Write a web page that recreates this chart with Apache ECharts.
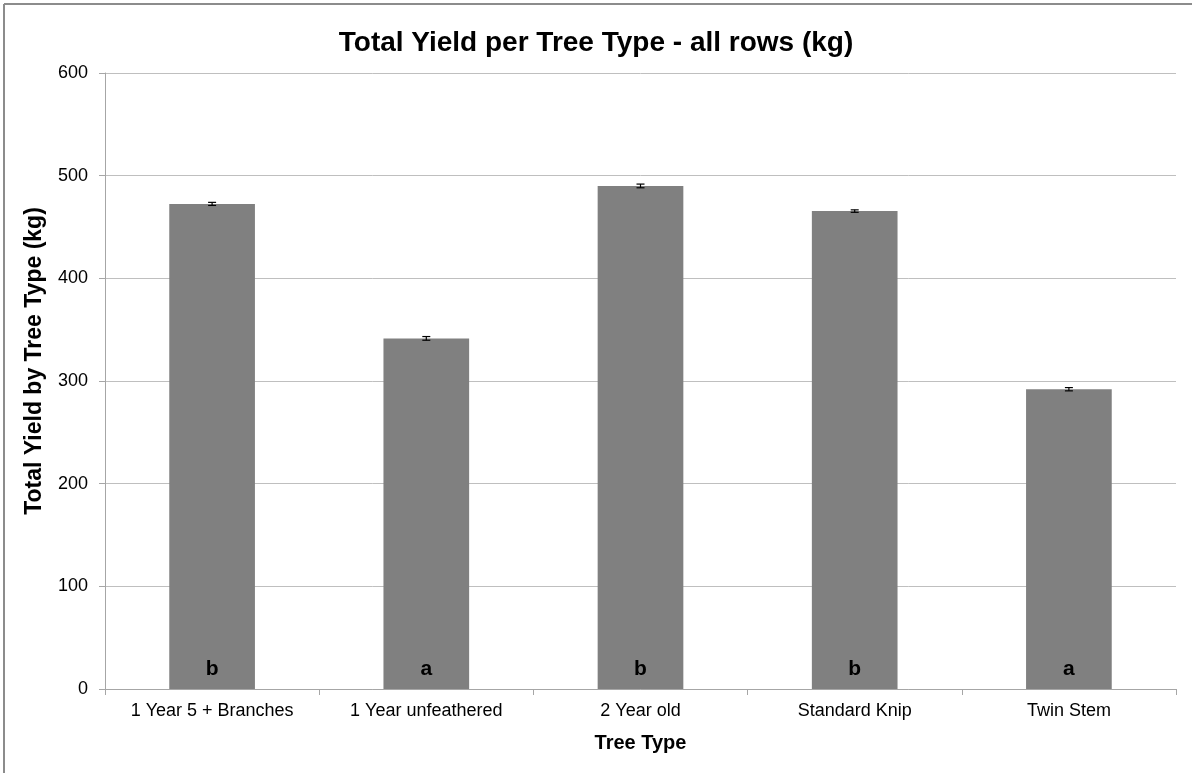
<!DOCTYPE html>
<html>
<head>
<meta charset="utf-8">
<script src="https://cdn.jsdelivr.net/npm/echarts@6/dist/echarts.min.js"></script>
<style>
  html, body { margin: 0; padding: 0; background: #fff; }
  #chart { width: 1192px; height: 773px; }
</style>
</head>
<body>
<div id="chart"></div>
<script>
// Tree types and their total yields (kg), with standard errors and significance groups
const treeTypes = ['1 Year 5 + Branches', '1 Year unfeathered', '2 Year old', 'Standard Knip', 'Twin Stem'];
const totalYield = [472.5, 341.5, 490, 465.5, 292];
const yieldError = [1.5, 1.8, 1.8, 1.2, 1.6];
const groupLetters = ['b', 'a', 'b', 'b', 'a'];

const font = '"Liberation Sans", Arial, sans-serif';

const chart = echarts.init(document.getElementById('chart'), null, { renderer: 'canvas' });

chart.setOption({
  backgroundColor: '#ffffff',
  animation: false,
  title: {
    text: 'Total Yield per Tree Type - all rows (kg)',
    left: 'center',
    top: 24,
    textStyle: { fontFamily: font, fontSize: 28, fontWeight: 'bold', color: '#000' }
  },
  graphic: [
    { type: 'line', shape: { x1: 4, y1: 4, x2: 1192, y2: 4 }, style: { stroke: '#8c8c8c', lineWidth: 2 } },
    { type: 'line', shape: { x1: 4, y1: 4, x2: 4, y2: 773 }, style: { stroke: '#8c8c8c', lineWidth: 2 } }
  ],
  grid: { left: 105, right: 16, top: 73, bottom: 84, containLabel: false },
  xAxis: {
    type: 'category',
    data: treeTypes,
    name: 'Tree Type',
    nameLocation: 'middle',
    nameGap: 44,
    nameTextStyle: { fontFamily: font, fontSize: 20, fontWeight: 'bold', color: '#000' },
    axisLine: { lineStyle: { color: '#a6a6a6', width: 1 } },
    axisTick: { show: true, alignWithLabel: false, length: 6, lineStyle: { color: '#a6a6a6' } },
    axisLabel: { fontFamily: font, fontSize: 18, color: '#000', margin: 13 }
  },
  yAxis: {
    type: 'value',
    min: 0,
    max: 600,
    interval: 100,
    name: 'Total Yield by Tree Type (kg)',
    nameLocation: 'middle',
    nameGap: 59,
    nameTextStyle: { fontFamily: font, fontSize: 23, fontWeight: 'bold', color: '#000', padding: [0, 0, 0, 40] },
    axisLine: { show: true, lineStyle: { color: '#a6a6a6', width: 1 } },
    axisTick: { show: true, inside: false, length: 6, lineStyle: { color: '#a6a6a6' } },
    axisLabel: { fontFamily: font, fontSize: 18, color: '#000', margin: 17 },
    splitLine: { lineStyle: { color: '#bfbfbf', width: 1 } }
  },
  series: [
    {
      type: 'bar',
      data: totalYield,
      barWidth: '40%',
      itemStyle: { color: '#808080' },
      label: {
        show: true,
        position: 'insideBottom',
        distance: 9,
        formatter: (p) => groupLetters[p.dataIndex],
        fontFamily: font,
        fontSize: 21,
        fontWeight: 'bold',
        color: '#000'
      }
    },
    {
      type: 'custom',
      data: totalYield.map((v, i) => [i, v - yieldError[i], v + yieldError[i]]),
      z: 10,
      renderItem: (params, api) => {
        const x = api.value(0);
        const lo = api.coord([x, api.value(1)]);
        const hi = api.coord([x, api.value(2)]);
        const cap = 4;
        const style = { stroke: '#000', lineWidth: 1.2 };
        return {
          type: 'group',
          children: [
            { type: 'line', shape: { x1: lo[0], y1: lo[1], x2: hi[0], y2: hi[1] }, style },
            { type: 'line', shape: { x1: lo[0] - cap, y1: lo[1], x2: lo[0] + cap, y2: lo[1] }, style },
            { type: 'line', shape: { x1: hi[0] - cap, y1: hi[1], x2: hi[0] + cap, y2: hi[1] }, style }
          ]
        };
      }
    }
  ]
});
</script>
</body>
</html>
